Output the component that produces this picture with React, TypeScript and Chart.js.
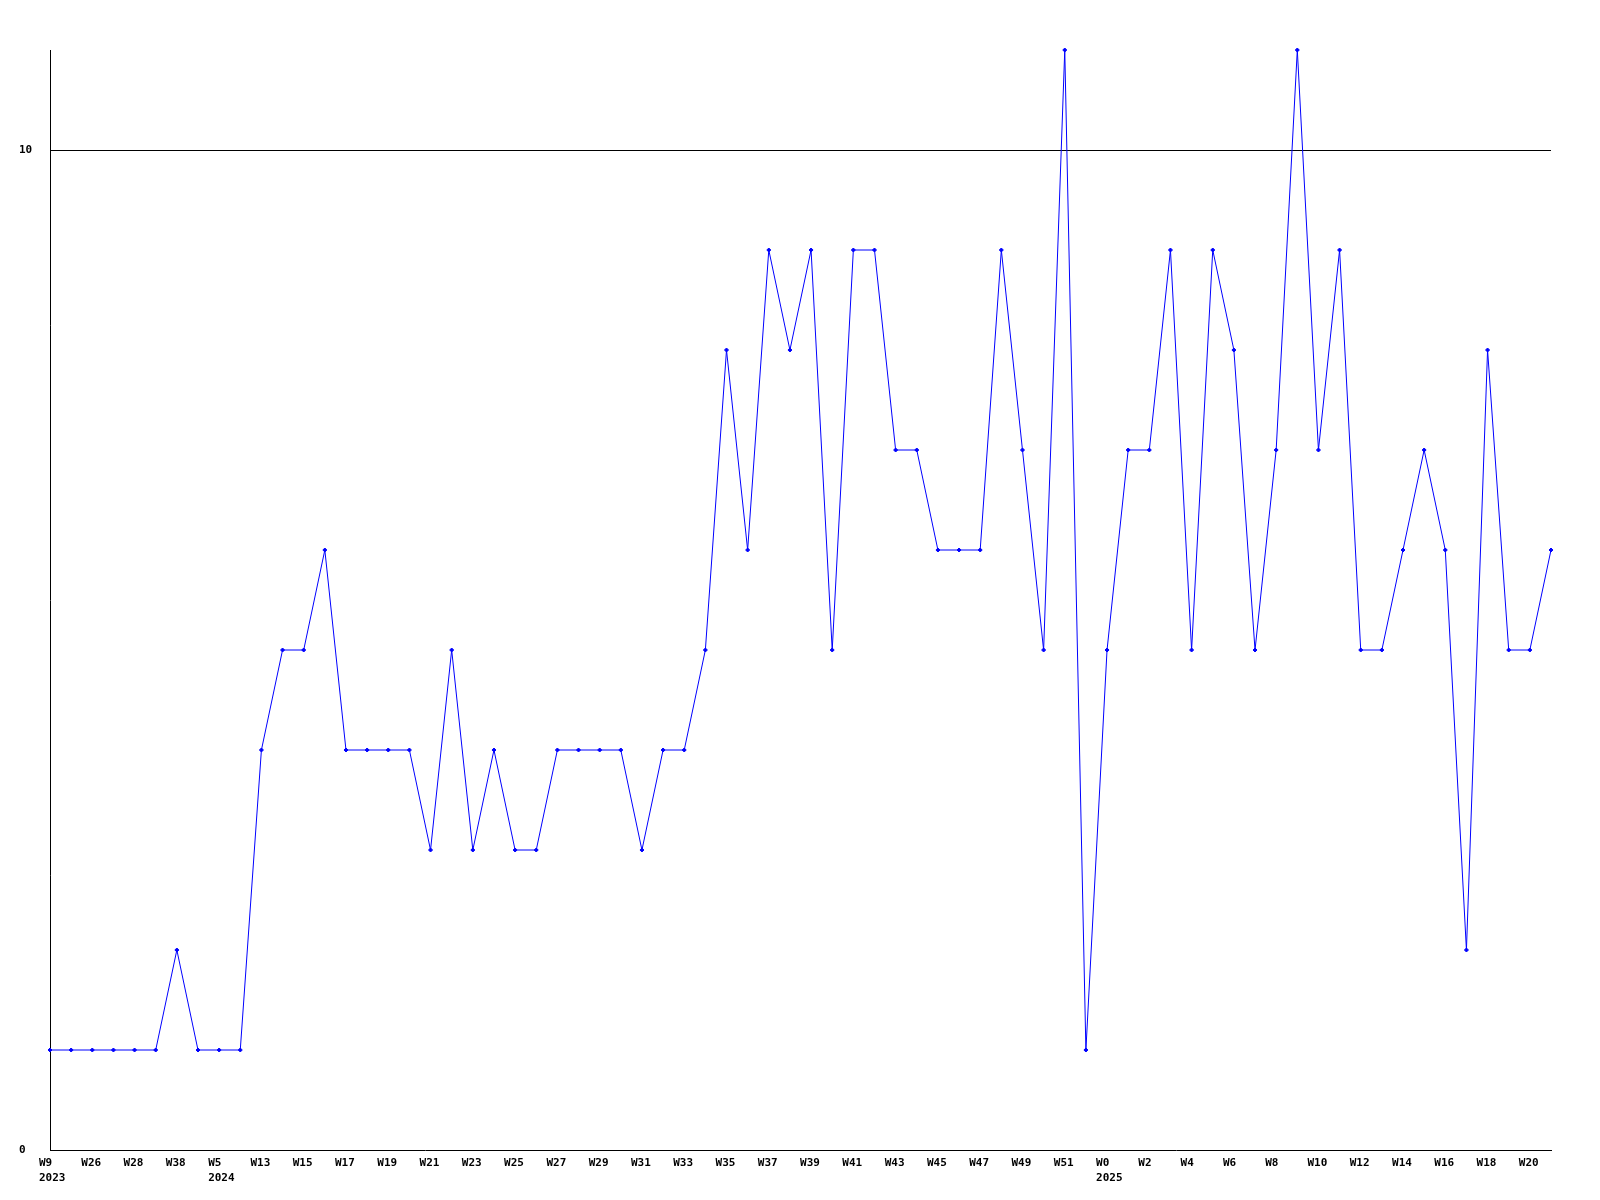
import React, { useEffect, useRef } from 'react';
import { Chart, registerables } from 'chart.js';

Chart.register(...registerables);

const weeks = [
  'W9', 'W25', 'W26', 'W27', 'W28', 'W37', 'W38', 'W52', 'W5', 'W12',
  'W13', 'W14', 'W15', 'W16', 'W17', 'W18', 'W19', 'W20', 'W21', 'W22',
  'W23', 'W24', 'W25', 'W26', 'W27', 'W28', 'W29', 'W30', 'W31', 'W32',
  'W33', 'W34', 'W35', 'W36', 'W37', 'W38', 'W39', 'W40', 'W41', 'W42',
  'W43', 'W44', 'W45', 'W46', 'W47', 'W48', 'W49', 'W50', 'W51', 'W52',
  'W0', 'W1', 'W2', 'W3', 'W4', 'W5', 'W6', 'W7', 'W8', 'W9',
  'W10', 'W11', 'W12', 'W13', 'W14', 'W15', 'W16', 'W17', 'W18', 'W19',
  'W20', 'W21',
];

const yearStartIndex = [0, 8, 50];
const yearNames = ['2023', '2024', '2025'];

const values = [
  1, 1, 1, 1, 1, 1, 2, 1, 1, 1,
  4, 5, 5, 6, 4, 4, 4, 4, 3, 5,
  3, 4, 3, 3, 4, 4, 4, 4, 3, 4,
  4, 5, 8, 6, 9, 8, 9, 5, 9, 9,
  7, 7, 6, 6, 6, 9, 7, 5, 11, 1,
  5, 7, 7, 9, 5, 9, 8, 5, 7, 11,
  7, 9, 5, 5, 6, 7, 6, 2, 8, 5,
  5, 6,
];

const yTicks = [0, 10];

export default function App() {
  const ref = useRef<HTMLCanvasElement | null>(null);

  useEffect(() => {
    if (!ref.current) return;
    const font = { family: '"DejaVu Sans Mono", monospace', size: 11, weight: 'bold' as const, lineHeight: '15.5px' };
    const chart = new Chart(ref.current, {
      type: 'line',
      data: {
        labels: weeks,
        datasets: [
          {
            data: values,
            borderColor: '#0000ff',
            backgroundColor: '#0000ff',
            borderWidth: 1,
            pointRadius: 2,
            pointStyle: 'rectRot',
            pointBorderWidth: 1,
            tension: 0,
            fill: false,
            clip: false as any,
          },
        ],
      },
      options: {
        responsive: false,
        animation: false,
        maintainAspectRatio: false,
        layout: { padding: { top: 50, right: 49, left: 19, bottom: 0 } },
        plugins: { legend: { display: false }, tooltip: { enabled: false } },
        scales: {
          x: {
            offset: false,
            grid: { display: false, drawTicks: false },
            border: { display: true, color: '#000', width: 1 },
            afterFit: (s: any) => { s.height = 50; },
            ticks: {
              autoSkip: false,
              maxRotation: 0,
              minRotation: 0,
              align: 'start',
              labelOffset: -11,
              padding: 5,
              color: '#000',
              font,
              callback: (_v: any, i: number) => {
                if (i % 2 !== 0) return '';
                const yi = yearStartIndex.indexOf(i);
                return yi >= 0 ? [weeks[i], yearNames[yi]] : weeks[i];
              },
            },
          },
          y: {
            min: 0,
            max: 11,
            afterBuildTicks: (s: any) => { s.ticks = yTicks.map((v) => ({ value: v })); },
            afterFit: (s: any) => { s.width = 31; },
            grid: {
              drawTicks: false,
              color: (c: any) => (c.tick && c.tick.value === 10 ? '#000' : 'rgba(0,0,0,0)'),
            },
            border: { display: true, color: '#000', width: 1 },
            ticks: {
              crossAlign: 'far',
              padding: 0,
              color: '#000',
              font,
            },
          },
        },
      },
    });
    return () => chart.destroy();
  }, []);

  return (
    <div style={{ position: 'absolute', left: 0, top: 0, width: 1600, height: 1200, background: '#fff' }}>
      <canvas ref={ref} width={1600} height={1200} style={{ width: 1600, height: 1200 }} />
    </div>
  );
}
